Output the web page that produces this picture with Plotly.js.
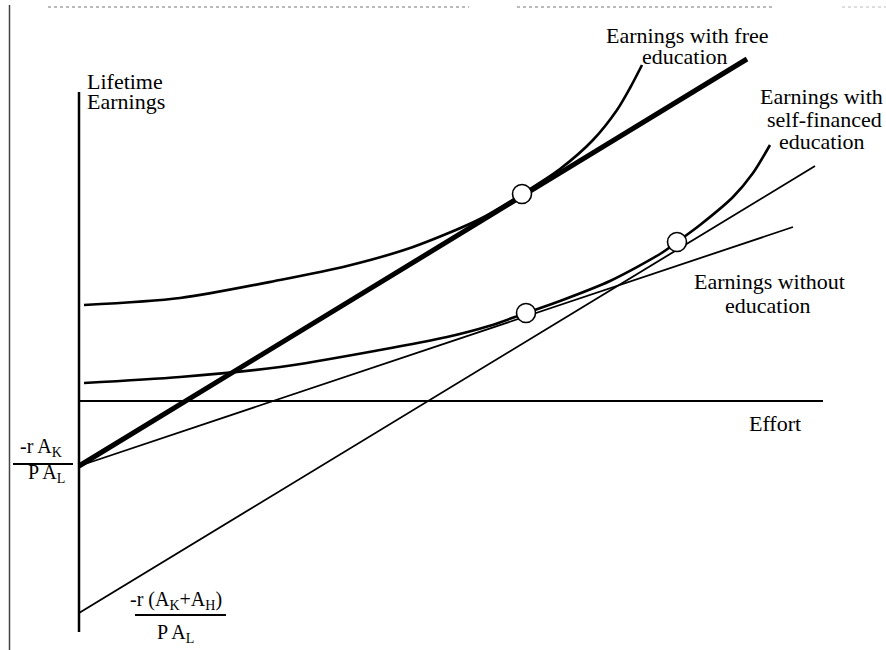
<!DOCTYPE html>
<html>
<head>
<meta charset="utf-8">
<script src="https://cdn.plot.ly/plotly-3.0.1.min.js"></script>
<style>
  html, body { margin: 0; padding: 0; background: #ffffff; }
  #chart { width: 886px; height: 650px; }
</style>
</head>
<body>
<div id="chart"></div>
<script>
// Effort (horizontal) and lifetime earnings (vertical), in diagram units.
const effortAxisX = [0, 74.4];
const effortAxisY = [0, 0];
const earningsAxisX = [0, 0];
const earningsAxisY = [30.9, -23.1];

// Budget lines: intercepts -rA_K/(PA_L) and -r(A_K+A_H)/(PA_L)
const freeLineX = [0, 66.8];
const freeLineY = [-6.5, 34.2];
const noEduLineX = [0, 71.4];
const noEduLineY = [-6.5, 17.4];
const selfLineX = [0, 73.6];
const selfLineY = [-21.2, 23.5];

// Earnings curves
const freeCurveX = [0.5, 10.1, 20.1, 26.8, 33.4, 40.1, 44.3, 48.1, 51.4, 53.8, 55.1, 56.3];
const freeCurveY = [9.6, 10.3, 12.1, 13.5, 15.4, 18.2, 20.7, 23.2, 26.1, 29.1, 31.3, 33.6];
const selfCurveX = [0.5, 10.1, 20.1, 30.1, 36.8, 41.0, 44.7, 48.1, 53.1, 58.1, 59.8, 62.1, 65.4, 67.4, 69.1];
const selfCurveY = [1.8, 2.4, 3.4, 5.1, 6.4, 7.5, 8.8, 10.0, 12.0, 14.7, 15.9, 17.6, 20.4, 22.8, 25.6];

// Tangency points
const tangencyX = [44.3, 44.7, 59.8];
const tangencyY = [20.7, 8.8, 15.9];

// Labels
const labelTexts = [
  'Lifetime', 'Earnings',
  'Earnings with free', 'education',
  'Earnings with', 'self-financed', 'education',
  'Earnings without', 'education',
  'Effort',
  '-r A<sub>K</sub>', 'P A<sub>L</sub>',
  '-r (A<sub>K</sub>+A<sub>H</sub>)', 'P A<sub>L</sub>'
];
const labelX = [0.6, 0.6, 60.8, 60.6, 80.6, 74.5, 74.3, 69.0, 68.9, 69.6, -3.8, -3.3, 9.7, 9.6];
const labelY = [32.0, 30.0, 36.6, 34.5, 30.5, 28.2, 26.0, 12.0, 9.6, -2.2, -4.6, -7.2, -19.9, -23.2];
const labelAnchor = ['left', 'left', 'center', 'center', 'right', 'center', 'center',
  'center', 'center', 'center', 'center', 'center', 'center', 'center'];
const labelSize = [22, 22, 22, 22, 22, 22, 22, 22, 22, 22, 20, 20, 20, 20];

const ink = '#000000';

function lineTrace(x, y, width, shape) {
  return {
    type: 'scatter', mode: 'lines', x: x, y: y,
    line: { color: ink, width: width, shape: shape || 'linear', smoothing: 0.8 },
    hoverinfo: 'skip', showlegend: false
  };
}

const traces = [
  lineTrace(effortAxisX, effortAxisY, 2),
  lineTrace(earningsAxisX, earningsAxisY, 2.5),
  lineTrace(noEduLineX, noEduLineY, 1.8),
  lineTrace(selfLineX, selfLineY, 1.8),
  lineTrace(freeCurveX, freeCurveY, 2.6, 'spline'),
  lineTrace(selfCurveX, selfCurveY, 2.6, 'spline'),
  lineTrace(freeLineX, freeLineY, 5),
  {
    type: 'scatter', mode: 'markers', x: tangencyX, y: tangencyY,
    marker: { size: 19, color: '#ffffff', line: { color: ink, width: 1.6 } },
    hoverinfo: 'skip', showlegend: false
  }
];

const annotations = labelTexts.map((t, i) => ({
  text: t, x: labelX[i], y: labelY[i], xref: 'x', yref: 'y',
  xanchor: labelAnchor[i], yanchor: 'middle', showarrow: false,
  font: { family: 'Liberation Serif, Times New Roman, serif', size: labelSize[i], color: ink }
}));

const layout = {
  width: 886, height: 650,
  margin: { l: 0, r: 0, t: 0, b: 0 },
  paper_bgcolor: '#ffffff', plot_bgcolor: '#ffffff',
  xaxis: { range: [-7.9, 80.7], visible: false, fixedrange: true },
  yaxis: { range: [-24.9, 40.1], visible: false, fixedrange: true },
  annotations: annotations,
  shapes: [
    // fraction bars
    { type: 'line', xref: 'x', yref: 'y', x0: -6.6, x1: -0.6, y0: -6.3, y1: -6.3, line: { color: ink, width: 2 } },
    { type: 'line', xref: 'x', yref: 'y', x0: 5.6, x1: 14.7, y0: -21.4, y1: -21.4, line: { color: ink, width: 2 } },
    // page edge and top rule
    { type: 'line', xref: 'paper', yref: 'paper', x0: 9.5 / 886, x1: 9.5 / 886, y0: 0, y1: 1 - 5 / 650, line: { color: '#444444', width: 1.5 } },
    { type: 'line', xref: 'paper', yref: 'paper', x0: 48 / 886, x1: 469 / 886, y0: 1 - 7 / 650, y1: 1 - 7 / 650, line: { color: '#777777', width: 1, dash: 'dot' } },
    { type: 'line', xref: 'paper', yref: 'paper', x0: 517 / 886, x1: 774 / 886, y0: 1 - 7 / 650, y1: 1 - 7 / 650, line: { color: '#777777', width: 1, dash: 'dot' } },
    { type: 'line', xref: 'paper', yref: 'paper', x0: 842 / 886, x1: 1, y0: 1 - 7 / 650, y1: 1 - 7 / 650, line: { color: '#bbbbbb', width: 1, dash: 'dot' } }
  ]
};

Plotly.newPlot('chart', traces, layout, { staticPlot: true, displayModeBar: false });
</script>
</body>
</html>
